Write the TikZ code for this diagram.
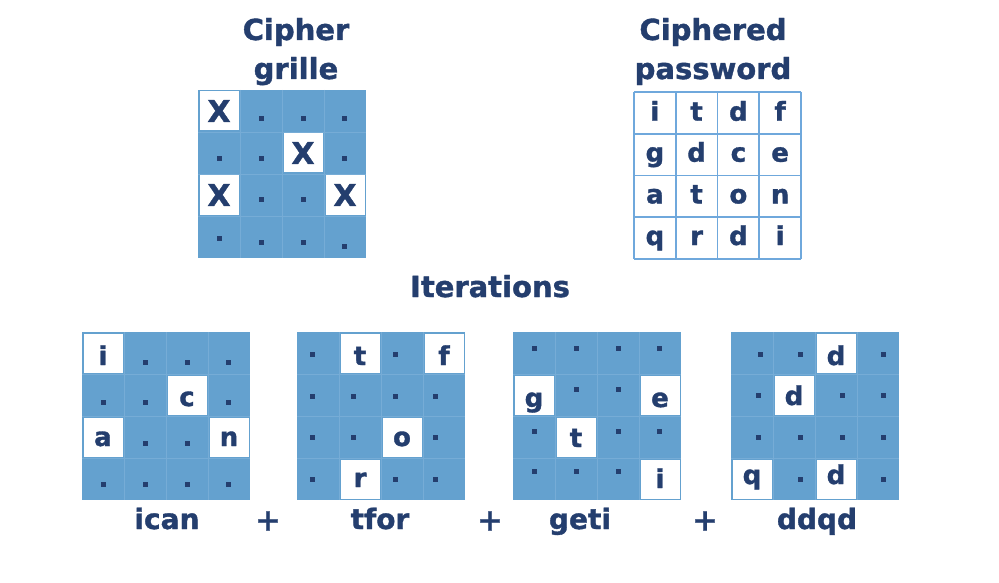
\documentclass[tikz,border=0pt]{standalone}
\usepackage{fontspec}
\setmainfont{DejaVu Sans}[BoldFeatures={FakeBold=1.3}]
\definecolor{ink}{RGB}{36,62,110}
\definecolor{gridblue}{RGB}{100,161,207}
\definecolor{faint}{RGB}{118,172,214}
\definecolor{linebl}{RGB}{111,168,220}
\newcommand\blugrid[2]{%
  \fill[gridblue] (#1,#2) rectangle ++(168,168);
  \foreach \k in {1,2,3}{%
    \draw[faint,line width=0.8pt] (#1+42*\k,#2) -- ++(0,168);
    \draw[faint,line width=0.8pt] (#1,#2+42*\k) -- ++(168,0);
  }}
\newcommand\whitecell[4]{\fill[white] (#1+42*#3+1.5,#2+42*#4+1.5) rectangle ++(39,39);}
\newcommand\sqdot[2]{\fill[ink] (#1,#2) ++(-2.5,-2.5) rectangle ++(5,5);}
\begin{document}
\begin{tikzpicture}[x=1pt,y=-1pt,
  title/.style={text=ink,font=\bfseries\fontsize{29}{29}\selectfont,inner sep=0pt,anchor=base},
  label/.style={text=ink,font=\bfseries\fontsize{28}{28}\selectfont,inner sep=0pt,anchor=base},
  plus/.style={text=ink,font=\bfseries\fontsize{30}{30}\selectfont,inner sep=0pt},
  ltr/.style={text=ink,font=\bfseries\fontsize{26}{26}\selectfont,inner sep=0pt,anchor=base},
  bigx/.style={text=ink,font=\bfseries\fontsize{30}{30}\selectfont,inner sep=0pt}]
\useasboundingbox (0,0) rectangle (999,583);
\fill[white] (0,0) rectangle (999,583);

% titles
\node[title] (t1a) at (296,40) {Cipher};
\node[title] (t1b) at (296,79) {grille};
\node[title] (t2a) at (713,40) {Ciphered};
\node[title] (t2b) at (713,79) {password};
\node[title] (t3) at (490,297) {Iterations};

% cipher grille
\blugrid{198}{90}
\whitecell{198}{90}{0}{0}
\whitecell{198}{90}{2}{1}
\whitecell{198}{90}{0}{2}
\whitecell{198}{90}{3}{2}
\node[bigx] (gx1) at (219,111) {X};
\node[bigx] (gx2) at (303,153) {X};
\node[bigx] (gx3) at (219,195) {X};
\node[bigx] (gx4) at (345,195) {X};
\sqdot{261}{119}\sqdot{303}{119}\sqdot{344}{119}
\sqdot{219}{159}\sqdot{261}{159}\sqdot{344}{159}
\sqdot{261}{199}\sqdot{303}{199}
\sqdot{219}{238}\sqdot{261}{242}\sqdot{303}{242}\sqdot{344}{246}

% ciphered password
\foreach \k in {0,1,2,3,4}{%
  \draw[linebl,line width=1.8pt] (634+41.75*\k,92) -- ++(0,167);
  \draw[linebl,line width=1.8pt] (634,92+41.75*\k) -- ++(167,0);
}
\node[ltr] (p00) at (654.9,120.7) {i};
\node[ltr] (p01) at (696.6,120.7) {t};
\node[ltr] (p02) at (738.4,120.7) {d};
\node[ltr] (p03) at (780.1,120.7) {f};
\node[ltr] (p10) at (654.9,161.7) {g};
\node[ltr] (p11) at (696.6,161.7) {d};
\node[ltr] (p12) at (738.4,161.7) {c};
\node[ltr] (p13) at (780.1,161.7) {e};
\node[ltr] (p20) at (654.9,203.4) {a};
\node[ltr] (p21) at (696.6,203.4) {t};
\node[ltr] (p22) at (738.4,203.4) {o};
\node[ltr] (p23) at (780.1,203.4) {n};
\node[ltr] (p30) at (654.9,245) {q};
\node[ltr] (p31) at (696.6,245) {r};
\node[ltr] (p32) at (738.4,245) {d};
\node[ltr] (p33) at (780.1,245) {i};

% iteration 1
\blugrid{82}{332}
\whitecell{82}{332}{0}{0}
\whitecell{82}{332}{2}{1}
\whitecell{82}{332}{0}{2}
\whitecell{82}{332}{3}{2}
\node[ltr] (a1) at (103,365) {i};
\node[ltr] (a2) at (187,406) {c};
\node[ltr] (a3) at (103,446) {a};
\node[ltr] (a4) at (229,446) {n};
\sqdot{145}{362}\sqdot{187}{362}\sqdot{228}{362}
\sqdot{103}{402}\sqdot{145}{402}\sqdot{228}{402}
\sqdot{145}{443}\sqdot{187}{443}
\sqdot{103}{484}\sqdot{145}{484}\sqdot{187}{484}\sqdot{228}{484}

% iteration 2
\blugrid{297}{332}
\whitecell{297}{332}{1}{0}
\whitecell{297}{332}{3}{0}
\whitecell{297}{332}{2}{2}
\whitecell{297}{332}{1}{3}
\node[ltr] (b1) at (360,365) {t};
\node[ltr] (b2) at (444,365) {f};
\node[ltr] (b3) at (402,446) {o};
\node[ltr] (b4) at (360,487) {r};
\sqdot{312}{354}\sqdot{395}{354}
\sqdot{312}{396}\sqdot{353}{396}\sqdot{395}{396}\sqdot{435}{396}
\sqdot{312}{437}\sqdot{353}{437}\sqdot{435}{437}
\sqdot{312}{479}\sqdot{395}{479}\sqdot{435}{479}

% iteration 3
\blugrid{513}{332}
\whitecell{513}{332}{0}{1}
\whitecell{513}{332}{3}{1}
\whitecell{513}{332}{1}{2}
\whitecell{513}{332}{3}{3}
\node[ltr] (c1) at (534,407) {g};
\node[ltr] (c2) at (660,407) {e};
\node[ltr] (c3) at (576,447) {t};
\node[ltr] (c4) at (660,488) {i};
\sqdot{534}{348}\sqdot{576}{348}\sqdot{618}{348}\sqdot{659}{348}
\sqdot{576}{389}\sqdot{618}{389}
\sqdot{534}{431}\sqdot{618}{431}\sqdot{659}{431}
\sqdot{534}{471}\sqdot{576}{471}\sqdot{618}{471}

% iteration 4
\blugrid{731}{332}
\whitecell{731}{332}{2}{0}
\whitecell{731}{332}{1}{1}
\whitecell{731}{332}{0}{3}
\whitecell{731}{332}{2}{3}
\node[ltr] (d1) at (836,365) {d};
\node[ltr] (d2) at (794,405) {d};
\node[ltr] (d3) at (752,484) {q};
\node[ltr] (d4) at (836,484) {d};
\sqdot{760}{354}\sqdot{800}{354}\sqdot{883}{354}
\sqdot{758}{395}\sqdot{842}{395}\sqdot{883}{395}
\sqdot{758}{437}\sqdot{800}{437}\sqdot{842}{437}\sqdot{883}{437}
\sqdot{800}{479}\sqdot{883}{479}

% labels
\node[label] (l1) at (167,529) {ican};
\node[label] (l2) at (380,529) {tfor};
\node[label] (l3) at (580,529) {geti};
\node[label] (l4) at (817,529) {ddqd};
\node[plus] (s1) at (268,521) {+};
\node[plus] (s2) at (490,521) {+};
\node[plus] (s3) at (705,521) {+};
\end{tikzpicture}
\end{document}
